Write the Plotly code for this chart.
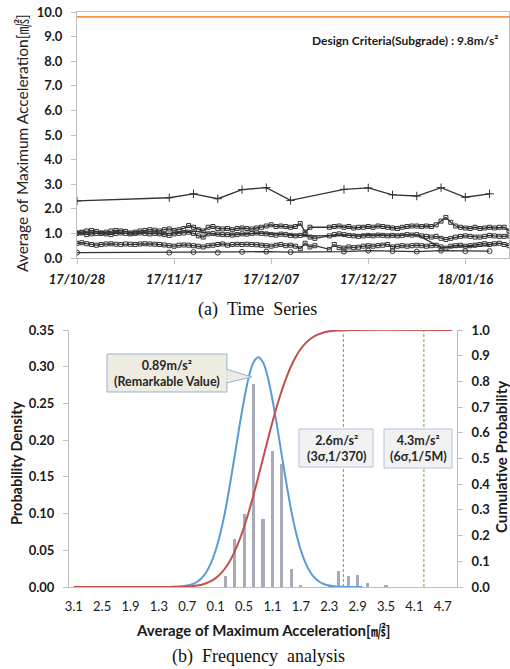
import plotly.graph_objects as go
import pandas as pd

# ---------------- DATA ----------------
start_date = "2017-10-28"
# daily series (None = no measurement)
s_upper = [1.02, 1.05, 1.10, 1.12, 1.08, 1.00, 1.05, 1.10, 1.12, 1.10,
           1.08, 1.02, 1.05, 1.10, 1.12, 1.15, 1.13, 1.10, 1.15, 1.18,
           1.12, 1.15, 1.20, 1.32, 1.25, 1.15, 1.10, 1.25, 1.28, 1.20,
           1.18, 1.20, 1.15, 1.20, 1.22, 1.20, 1.18, 1.22, 1.25, 1.30,
           1.35, 1.28, 1.30, 1.28, 1.25, 1.28, 1.40, 1.05, 1.25, None,
           None, None, 1.25, 1.28, 1.30, 1.25, 1.28, 1.22, 1.25, 1.25,
           1.28, 1.25, 1.30, 1.28, 1.25, 1.22, 1.20, 1.25, 1.28, 1.30,
           1.30, 1.28, 1.30, 1.28, 1.35, 1.50, 1.65, 1.45, 1.30, 1.25,
           1.22, 1.20, 1.25, 1.20, 1.22, 1.25, 1.22, 1.25, 1.25, 1.10]
s_middle = [1.00, 1.02, 0.95, 0.98, 1.00, 1.02, 0.98, 0.95, 1.00, 1.02,
            1.00, 0.98, 1.00, 1.02, 1.00, 0.98, 1.00, 0.98, 0.95, 0.92,
            0.98, 1.00, 1.02, 1.05, 1.00, 0.90, 0.85, 0.98, 1.00, 0.97,
            0.95, 0.95, 0.93, 0.95, 0.98, 0.97, 1.00, 1.02, 1.00, 0.98,
            0.95, 0.93, 0.97, 0.95, 0.92, 0.90, 0.92, 0.95, 0.85, 0.80,
            None, None, 0.90, 0.95, 0.98, 0.95, 0.92, 0.90, 0.88, 0.90,
            0.92, 0.90, 0.93, 0.92, 0.90, 0.92, 0.90, 0.92, 0.95, 0.93,
            0.95, 0.90, 0.88, 0.85, 0.88, 0.80, 0.75, 0.80, 0.85, 0.88,
            0.90, 0.88, 0.85, 0.85, 0.88, 0.92, 0.90, 0.88, 0.88, 0.90]
s_lower = [0.60, 0.62, 0.58, 0.55, 0.52, 0.55, 0.57, 0.58, 0.56, 0.55,
           0.57, 0.56, 0.55, 0.57, 0.58, 0.57, 0.56, 0.55, 0.53, 0.50,
           0.48, 0.52, 0.53, 0.52, 0.50, 0.48, 0.45, 0.50, 0.52, 0.55,
           0.57, 0.52, 0.55, 0.56, 0.55, 0.56, 0.55, 0.54, 0.52, 0.50,
           0.48, 0.52, 0.55, 0.50, 0.52, 0.48, 0.38, 0.60, 0.45, 0.50,
           None, None, 0.35, 0.55, 0.42, 0.40, 0.45, 0.42, 0.44, 0.48,
           0.50, 0.48, 0.50, 0.52, 0.55, 0.45, 0.48, 0.50, 0.48, 0.50,
           0.52, 0.50, 0.48, 0.50, 0.52, 0.45, 0.40, 0.48, 0.50, 0.52,
           0.48, 0.50, 0.52, 0.55, 0.58, 0.55, 0.58, 0.60, 0.55, 0.50]

# 5-day series
dates_5d = ["2017-10-28", "2017-11-16", "2017-11-21", "2017-11-26", "2017-12-01",
            "2017-12-06", "2017-12-11", "2017-12-22", "2017-12-27", "2018-01-01",
            "2018-01-06", "2018-01-11", "2018-01-16", "2018-01-21"]
s_plus = [2.32, 2.45, 2.61, 2.41, 2.78, 2.86, 2.34, 2.79, 2.85, 2.57, 2.52, 2.86, 2.47, 2.61]
s_circle = [0.22, 0.22, 0.24, 0.22, 0.25, 0.26, 0.24, 0.26, 0.30, 0.28, 0.26, 0.30, 0.28, 0.28]
dates_s4 = ["2017-10-28", "2017-11-16", "2017-11-21", "2017-11-26", "2017-12-01",
            "2017-12-06", "2017-12-11", "2017-12-16", "2017-12-22", "2017-12-27",
            "2018-01-01", "2018-01-06", "2018-01-11", "2018-01-16", "2018-01-21"]
s_4 = [1.02, 1.00, 1.10, 0.95, 0.98, 1.02, 0.95, 0.90, 0.92, 0.95, 0.93, 0.95, 0.42, 0.45, 0.50]

design_criteria = 9.8
ts_ticks = ["2017-10-28", "2017-11-17", "2017-12-07", "2017-12-27", "2018-01-16"]

# frequency analysis
pdf_x = [-3.1, -1.2, -1.1, -1.0, -0.9, -0.8, -0.7, -0.6, -0.5, -0.4, -0.3, -0.2, -0.1,
         0.0, 0.1, 0.2, 0.3, 0.4, 0.5, 0.6, 0.7, 0.8, 0.9, 1.0, 1.1, 1.2, 1.3, 1.4,
         1.5, 1.6, 1.7, 1.8, 1.9, 2.0, 2.1, 2.2, 2.3, 2.4, 2.5, 2.6, 2.7, 2.8, 2.9, 3.0, 4.9]
pdf_y = [0.0, 0.0, 0.0001, 0.0002, 0.0004, 0.0009, 0.0019, 0.0037, 0.0068, 0.012, 0.0202,
         0.0326, 0.050, 0.0735, 0.103, 0.139, 0.178, 0.218, 0.255, 0.286, 0.306, 0.313,
         0.306, 0.286, 0.255, 0.218, 0.178, 0.139, 0.103, 0.0735, 0.050, 0.0326, 0.0202,
         0.012, 0.0068, 0.0037, 0.0019, 0.0009, 0.0004, 0.0002, 0.0001, 0.0, 0.0, 0.0]
cdf_x = [-3.1, -0.8, -0.7, -0.6, -0.5, -0.4, -0.3, -0.2, -0.1, 0.0, 0.1, 0.2, 0.3, 0.4,
         0.5, 0.6, 0.7, 0.8, 0.9, 1.0, 1.1, 1.2, 1.3, 1.4, 1.5, 1.6, 1.7, 1.8, 1.9, 2.0,
         2.1, 2.2, 2.3, 2.4, 2.5, 2.6, 2.7, 4.9]
cdf_y = [0.0, 0.0008, 0.0018, 0.0032, 0.0055, 0.009, 0.0146, 0.0228, 0.0345, 0.0509,
         0.0729, 0.1015, 0.1377, 0.1817, 0.2336, 0.2929, 0.358, 0.428, 0.5, 0.572,
         0.642, 0.707, 0.766, 0.818, 0.862, 0.898, 0.927, 0.949, 0.965, 0.977, 0.985,
         0.991, 0.995, 0.997, 0.998, 0.999, 1.0, 1.0]
bar_x = [0.1, 0.3, 0.5, 0.7, 0.9, 1.1, 1.3, 1.5, 1.7, 2.3, 2.5, 2.7, 2.9, 3.1, 3.5]
bar_y = [0.0145, 0.066, 0.099, 0.277, 0.092, 0.185, 0.168, 0.0245, 0.002, 0.002,
         0.022, 0.0145, 0.017, 0.006, 0.0015]
freq_tickvals = [-3.1, -2.5, -1.9, -1.3, -0.7, -0.1, 0.5, 1.1, 1.7, 2.3, 2.9, 3.5, 4.1, 4.7]
freq_ticktext = ["3.1", "2.5", "1.9", "1.3", "0.7", "0.1", "0.5", "1.1", "1.7", "2.3",
                 "2.9", "3.5", "4.1", "4.7"]
criteria_x = [2.6, 4.3]
criteria_labels = ["2.6m/s²<br>(3σ,1/370)", "4.3m/s²<br>(6σ,1/5M)"]
remarkable = 0.89

# ---------------- FIGURE ----------------
W, H = 510, 669
def px(x):
    return x / W
def py(y):
    return 1 - y / H

FONT = "Lato, 'Noto Sans CJK KR', sans-serif"
SERIF = "'Liberation Serif', 'DejaVu Serif', serif"
LC = "#333333"
AX = "#bfbfbf"
NB = "\u00a0"

fig = go.Figure()
daily_dates = pd.date_range(start_date, periods=len(s_upper), freq="D")

for vals in (s_upper, s_middle, s_lower):
    fig.add_trace(go.Scatter(x=daily_dates, y=vals, mode="lines+markers", connectgaps=True,
                             line=dict(color=LC, width=1.3),
                             marker=dict(symbol="square-open", size=4, color=LC, line=dict(width=1)),
                             xaxis="x", yaxis="y", showlegend=False))
fig.add_trace(go.Scatter(x=pd.to_datetime(dates_s4), y=s_4, mode="lines", line=dict(color=LC, width=1.3),
                         xaxis="x", yaxis="y", showlegend=False))
fig.add_trace(go.Scatter(x=pd.to_datetime(dates_5d), y=s_circle, mode="lines+markers",
                         line=dict(color=LC, width=1.3),
                         marker=dict(symbol="circle-open", size=5, color=LC, line=dict(width=1)),
                         xaxis="x", yaxis="y", showlegend=False))
fig.add_trace(go.Scatter(x=pd.to_datetime(dates_5d), y=s_plus, mode="lines+markers",
                         line=dict(color=LC, width=1.3),
                         marker=dict(symbol="cross-thin", size=6, color=LC, line=dict(width=1, color=LC)),
                         xaxis="x", yaxis="y", showlegend=False))

# frequency
fig.add_trace(go.Bar(x=bar_x, y=bar_y, width=0.065, marker=dict(color="#a7aab8", line=dict(width=0)),
                     xaxis="x2", yaxis="y2", showlegend=False))
fig.add_trace(go.Scatter(x=pdf_x, y=pdf_y, mode="lines", line=dict(color="#5b9bd5", width=2, shape="spline"),
                         xaxis="x2", yaxis="y2", showlegend=False))
fig.add_trace(go.Scatter(x=cdf_x, y=cdf_y, mode="lines", line=dict(color="#c0504d", width=2, shape="spline"),
                         xaxis="x2", yaxis="y3", showlegend=False))

shapes = []
shapes.append(dict(type="line", xref="x domain", yref="y", x0=0, x1=1, y0=design_criteria, y1=design_criteria,
                   line=dict(color="#f79646", width=1.6)))
for cx in criteria_x:
    shapes.append(dict(type="line", xref="x2", yref="y3", x0=cx, x1=cx, y0=0, y1=1,
                       line=dict(color="#8fb03e", width=1.2, dash="3px,2px")))
# callout boxes (paper coords)
shapes.append(dict(type="path", xref="paper", yref="paper",
                   path=f"M {px(226)},{py(369)} L {px(252)},{py(377)} L {px(226)},{py(383)} Z",
                   fillcolor="#eeece1", line=dict(color="#95b3d7", width=1)))
shapes.append(dict(type="rect", xref="paper", yref="paper", x0=px(107), x1=px(227), y0=py(392), y1=py(354),
                   fillcolor="#eeece1", line=dict(color="#95b3d7", width=1)))
shapes.append(dict(type="line", xref="paper", yref="paper", x0=px(227), x1=px(227), y0=py(370), y1=py(382),
                   line=dict(color="#eeece1", width=1.5)))
shapes.append(dict(type="rect", xref="paper", yref="paper", x0=px(299), x1=px(373), y0=py(467), y1=py(429),
                   fillcolor="#f2f2f2", line=dict(color="#b0c4de", width=1)))
shapes.append(dict(type="rect", xref="paper", yref="paper", x0=px(384), x1=px(452), y0=py(468), y1=py(429),
                   fillcolor="#f2f2f2", line=dict(color="#b0c4de", width=1)))

ann = []
ann.append(dict(xref="paper", yref="paper", x=px(500), y=py(41), text="Design Criteria(Subgrade) : 9.8m/s²",
                showarrow=False, xanchor="right", yanchor="middle",
                font=dict(family=FONT, size=12, color="#1a1a1a", weight="bold")))
ann.append(dict(xref="paper", yref="paper", x=px(22), y=py(143), text="Average of Maximum Acceleration[㎨]",
                showarrow=False, textangle=-90, xanchor="center", yanchor="middle",
                font=dict(family=FONT, size=15.5, color="#222222")))
ann.append(dict(xref="paper", yref="paper", x=px(257), y=py(309), text=f"(a){NB}{NB}Time{NB}{NB}Series",
                showarrow=False, xanchor="center", yanchor="middle",
                font=dict(family=SERIF, size=18, color="#111111")))
ann.append(dict(xref="paper", yref="paper", x=px(258), y=py(656), text=f"(b){NB}{NB}Frequency{NB}{NB}analysis",
                showarrow=False, xanchor="center", yanchor="middle",
                font=dict(family=SERIF, size=18, color="#111111")))
ann.append(dict(xref="paper", yref="paper", x=px(263), y=py(630), text="Average of Maximum Acceleration[㎨]",
                showarrow=False, xanchor="center", yanchor="middle",
                font=dict(family=FONT, size=15, color="#1a1a1a", weight="bold")))
ann.append(dict(xref="paper", yref="paper", x=px(16), y=py(463), text="Probability Density",
                showarrow=False, textangle=-90, xanchor="center", yanchor="middle",
                font=dict(family=FONT, size=14.5, color="#1a1a1a", weight="bold")))
ann.append(dict(xref="paper", yref="paper", x=px(501), y=py(457), text="Cumulative Probability",
                showarrow=False, textangle=-90, xanchor="center", yanchor="middle",
                font=dict(family=FONT, size=15, color="#1a1a1a", weight="bold")))
ann.append(dict(xref="paper", yref="paper", x=px(167), y=py(373),
                text=f"{remarkable}m/s²<br>(Remarkable Value)",
                showarrow=False, xanchor="center", yanchor="middle",
                font=dict(family=FONT, size=12.5, color="#262626", weight="bold")))
for cx_px, lab in zip([336, 418], criteria_labels):
    ann.append(dict(xref="paper", yref="paper", x=px(cx_px), y=py(448), text=lab,
                    showarrow=False, xanchor="center", yanchor="middle",
                    font=dict(family=FONT, size=12.5, color="#262626", weight="bold")))

fig.update_layout(
    width=W, height=H, margin=dict(l=0, r=0, t=0, b=0, autoexpand=False),
    paper_bgcolor="white", plot_bgcolor="rgba(0,0,0,0)",
    bargap=0, shapes=shapes, annotations=ann,
    xaxis=dict(domain=[px(77), px(509)], type="date", range=["2017-10-28", "2018-01-25"],
               tickvals=ts_ticks, tickformat="%y/%m/%d", automargin=False,
               tickfont=dict(family=FONT, size=13, color="#1a1a1a", weight="bold", style="italic"),
               showline=True, linecolor=AX, mirror=True, ticks="outside", ticklen=5, tickcolor=AX,
               showgrid=False, zeroline=False, anchor="y", ticklabelstandoff=4),
    yaxis=dict(domain=[py(258), py(12)], range=[0, 10], dtick=1, tickformat=".1f", automargin=False,
               tickfont=dict(family=FONT, size=13, color="#1a1a1a", weight="bold"),
               showline=True, linecolor=AX, mirror=True, ticks="outside", ticklen=5, tickcolor=AX,
               showgrid=False, zeroline=False, anchor="x", ticklabelstandoff=6),
    xaxis2=dict(domain=[px(69), px(457)], range=[-3.2, 5.0], tickvals=freq_tickvals, ticktext=freq_ticktext,
                tickfont=dict(family=FONT, size=13, color="#1a1a1a"), automargin=False,
                showline=True, linecolor=AX, ticks="", showgrid=False, zeroline=False,
                anchor="y2", ticklabelstandoff=7),
    yaxis2=dict(domain=[py(587), py(330)], range=[0, 0.35], dtick=0.05, tickformat=".2f", automargin=False,
                tickfont=dict(family=FONT, size=13, color="#1a1a1a", weight="bold"),
                showline=True, linecolor=AX, ticks="outside", ticklen=5, tickcolor=AX,
                showgrid=False, zeroline=False, anchor="x2", ticklabelstandoff=6),
    yaxis3=dict(domain=[py(587), py(330)], range=[0, 1], dtick=0.1, tickformat=".1f", automargin=False,
                overlaying="y2", side="right", anchor="x2",
                tickfont=dict(family=FONT, size=13, color="#1a1a1a", weight="bold"),
                showline=True, linecolor=AX, ticks="outside", ticklen=5, tickcolor=AX,
                showgrid=False, zeroline=False, ticklabelstandoff=6),
)

fig.write_html("out.html", config={"displayModeBar": False},
               post_script="document.body.style.margin='0px';document.body.style.overflow='hidden';")
